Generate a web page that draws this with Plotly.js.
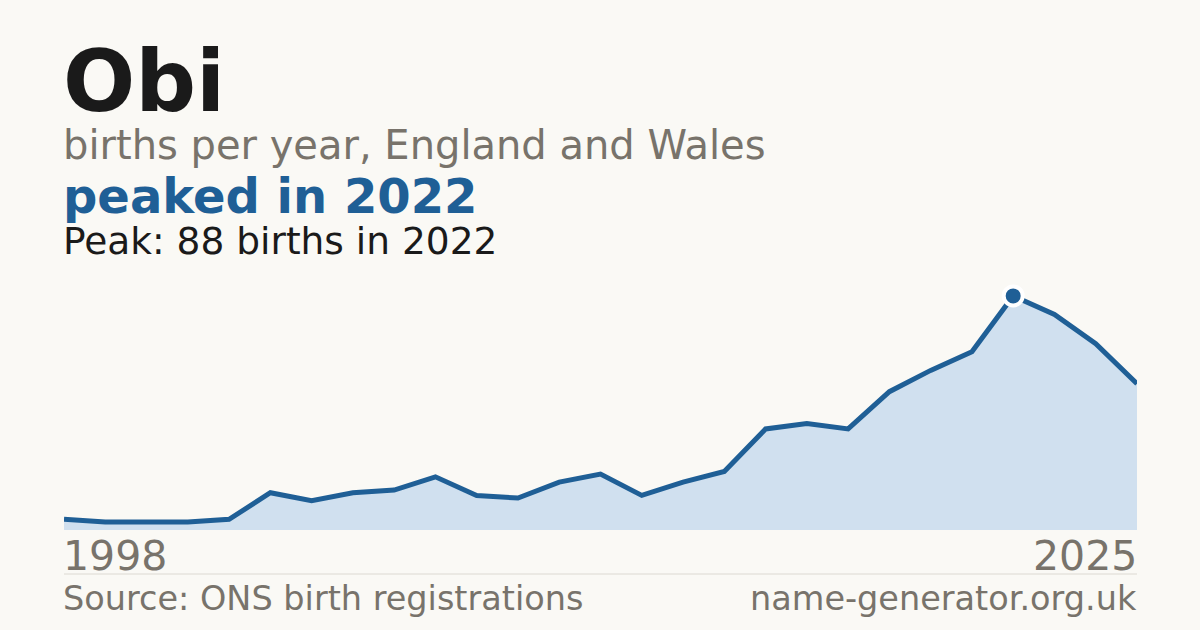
<!DOCTYPE html>
<html>
<head>
<meta charset="utf-8">
<script src="https://cdn.plot.ly/plotly-3.0.1.min.js"></script>
<style>
  html, body { margin: 0; padding: 0; background: #faf9f5; }
  #graph { width: 1200px; height: 630px; }
</style>
</head>
<body>
<div id="graph"></div>
<script>
// births per year for the name
var years = ["1998", "1999", "2000", "2001", "2002", "2003", "2004", "2005", "2006",
  "2007", "2008", "2009", "2010", "2011", "2012", "2013", "2014", "2015", "2016",
  "2017", "2018", "2019", "2021", "2022", "2023", "2024", "2025"];
var births = [4, 3, 3, 3, 4, 14, 11, 14, 15, 20, 13, 12, 18, 21, 13, 18, 22, 38, 40,
  38, 52, 60, 67, 88, 81, 70, 55];

var name = "Obi";
var subtitle = "births per year, England and Wales";
var source = "Source: ONS birth registrations";
var site = "name-generator.org.uk";

var blue = "#1f5f96";
var grey = "#78736b";

var peakVal = Math.max.apply(null, births);
var peakYear = years[births.indexOf(peakVal)];

// plot area: top 264px, bottom 530px, left 64px, width 1073px
function py(p) { return (530 - p) / 266; }
var x0 = -3 / 1073;
var x1 = 1 + 2 / 1073;

function plotChart() {
  var area = {
    x: years,
    y: births,
    type: "scatter",
    mode: "lines",
    fill: "tozeroy",
    fillcolor: "#d0e0ef",
    line: { color: blue, width: 5 },
    hoverinfo: "skip"
  };
  var peak = {
    x: [peakYear],
    y: [peakVal],
    type: "scatter",
    mode: "markers",
    marker: { color: blue, size: 19, line: { color: "#ffffff", width: 4 } },
    cliponaxis: false,
    hoverinfo: "skip"
  };
  var font = "DejaVu Sans, sans-serif";
  var last = years.length - 1;
  var layout = {
    width: 1200,
    height: 630,
    paper_bgcolor: "#faf9f5",
    plot_bgcolor: "#faf9f5",
    showlegend: false,
    margin: { l: 64, r: 63, t: 264, b: 100 },
    xaxis: {
      type: "category",
      range: [0, last],
      showgrid: false, zeroline: false, showticklabels: false, ticks: "",
      fixedrange: true
    },
    yaxis: {
      range: [0, 100],
      showgrid: false, zeroline: false, showticklabels: false, ticks: "",
      fixedrange: true
    },
    shapes: [{
      type: "line", xref: "paper", yref: "paper",
      x0: 0, x1: 1, y0: py(574), y1: py(574),
      line: { color: "#dcd9d2", width: 1 }
    }],
    annotations: [
      { text: "<b>" + name + "</b>", xref: "paper", yref: "paper", x: x0, y: py(81),
        xanchor: "left", yanchor: "middle", showarrow: false,
        font: { family: font, size: 85, color: "#1a1a1a" } },
      { text: subtitle, xref: "paper", yref: "paper", x: x0, y: py(145),
        xanchor: "left", yanchor: "middle", showarrow: false,
        font: { family: font, size: 40, color: grey } },
      { text: "<b>peaked in " + peakYear + "</b>", xref: "paper", yref: "paper", x: x0, y: py(196),
        xanchor: "left", yanchor: "middle", showarrow: false,
        font: { family: font, size: 48, color: blue } },
      { text: "Peak: " + peakVal + " births in " + peakYear, xref: "paper", yref: "paper", x: x0, y: py(241),
        xanchor: "left", yanchor: "middle", showarrow: false,
        font: { family: font, size: 37.5, color: "#1a1a1a" } },
      { text: years[0], xref: "paper", yref: "paper", x: x0, y: py(556),
        xanchor: "left", yanchor: "middle", showarrow: false,
        font: { family: font, size: 41, color: grey } },
      { text: years[last], xref: "paper", yref: "paper", x: x1, y: py(556),
        xanchor: "right", yanchor: "middle", showarrow: false,
        font: { family: font, size: 41, color: grey } },
      { text: source, xref: "paper", yref: "paper", x: x0, y: py(598),
        xanchor: "left", yanchor: "middle", showarrow: false,
        font: { family: font, size: 33.5, color: grey } },
      { text: site, xref: "paper", yref: "paper", x: x1, y: py(598),
        xanchor: "right", yanchor: "middle", showarrow: false,
        font: { family: font, size: 33.5, color: grey } }
    ]
  };
  Plotly.newPlot("graph", [area, peak], layout, { staticPlot: true });
}
plotChart();
</script>
</body>
</html>
